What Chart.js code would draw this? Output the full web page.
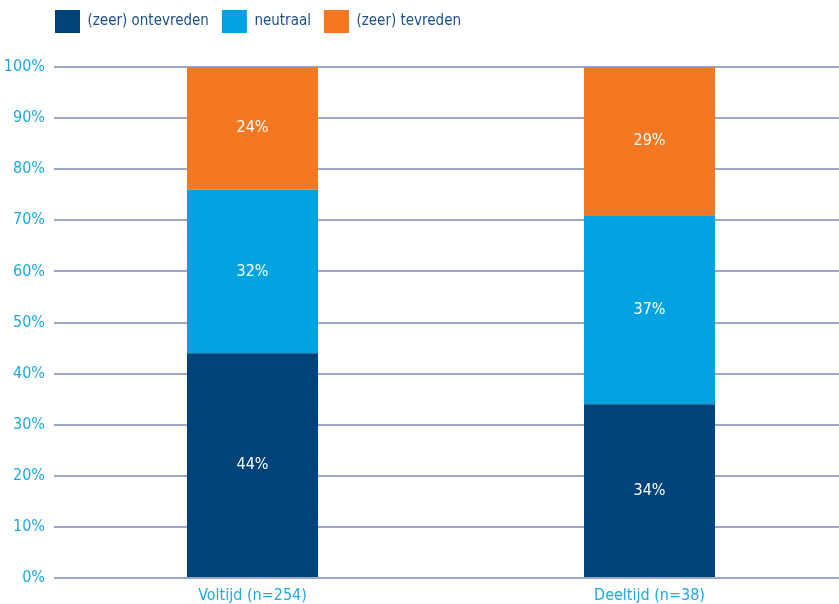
<!DOCTYPE html>
<html>
<head>
<meta charset="utf-8">
<script src="https://cdn.jsdelivr.net/npm/chart.js@4"></script>
<style>
  html, body { margin: 0; padding: 0; background: #fff; overflow: hidden; }
  #wrap { width: 848px; height: 604px; }
</style>
</head>
<body>
<div id="wrap"><canvas id="satChart"></canvas></div>
<script>
const categories = ['Voltijd (n=254)', 'Deeltijd (n=38)'];
const seriesNames = ['(zeer) ontevreden', 'neutraal', '(zeer) tevreden'];
const ontevreden = [44, 34];
const neutraal = [32, 37];
const tevreden = [24, 29];
const tickLabels = ['0%', '10%', '20%', '30%', '40%', '50%', '60%', '70%', '80%', '90%', '100%'];

const FONT = '"Liberation Sans Narrow", "DejaVu Sans Condensed", sans-serif';

// white percentage labels in the middle of each segment
const segmentLabels = {
    id: 'segmentLabels',
    afterDatasetsDraw(chart) {
        const ctx = chart.ctx;
        ctx.save();
        ctx.fillStyle = '#ffffff';
        ctx.font = '16px ' + FONT;
        ctx.textAlign = 'center';
        ctx.textBaseline = 'middle';
        chart.data.datasets.forEach((ds, i) => {
            chart.getDatasetMeta(i).data.forEach((bar, j) => {
                const mid = (bar.y + bar.base) / 2;
                ctx.fillText(ds.data[j] + '%', bar.x, mid);
            });
        });
        ctx.restore();
    }
};

// nudge the legend up and to the left edge of the plot
const legendShift = {
    id: 'legendShift',
    beforeDraw(chart) {
        chart.legend.left = 42;
        chart.legend.top = -3;
    }
};

const ctx = document.getElementById('satChart').getContext('2d');
new Chart(ctx, {
    type: 'bar',
    data: {
        labels: categories,
        datasets: [
            { label: seriesNames[0], data: ontevreden, backgroundColor: '#00427a' },
            { label: seriesNames[1], data: neutraal, backgroundColor: '#00a3e0' },
            { label: seriesNames[2], data: tevreden, backgroundColor: '#f47721' }
        ]
    },
    options: {
        responsive: true,
        maintainAspectRatio: false,
        animation: false,
        layout: { padding: { top: 21, left: 0, right: 0, bottom: 0 } },
        datasets: { bar: { barPercentage: 0.66, categoryPercentage: 0.5 } },
        plugins: {
            tooltip: { enabled: false },
            legend: {
                position: 'top',
                align: 'start',
                fullSize: false,
                labels: {
                    boxWidth: 25,
                    boxHeight: 23,
                    padding: 13,
                    color: '#1d4f8c',
                    font: { family: FONT, size: 15 }
                }
            }
        },
        scales: {
            x: {
                stacked: true,
                grid: { display: false },
                border: { display: false },
                afterFit(scale) { scale.height = 26; },
                ticks: { color: '#1fa7e1', font: { family: FONT, size: 16 }, padding: 0 }
            },
            y: {
                stacked: true,
                min: 0,
                max: 100,
                afterFit(scale) { scale.width = 54; },
                grid: { color: '#98a9c9', lineWidth: 2, drawTicks: false },
                border: { display: false },
                ticks: {
                    stepSize: 10,
                    padding: 9,
                    color: '#1fa7e1',
                    font: { family: FONT, size: 16 },
                    callback: (v, i) => tickLabels[i]
                }
            }
        }
    },
    plugins: [segmentLabels, legendShift]
});
</script>
</body>
</html>
